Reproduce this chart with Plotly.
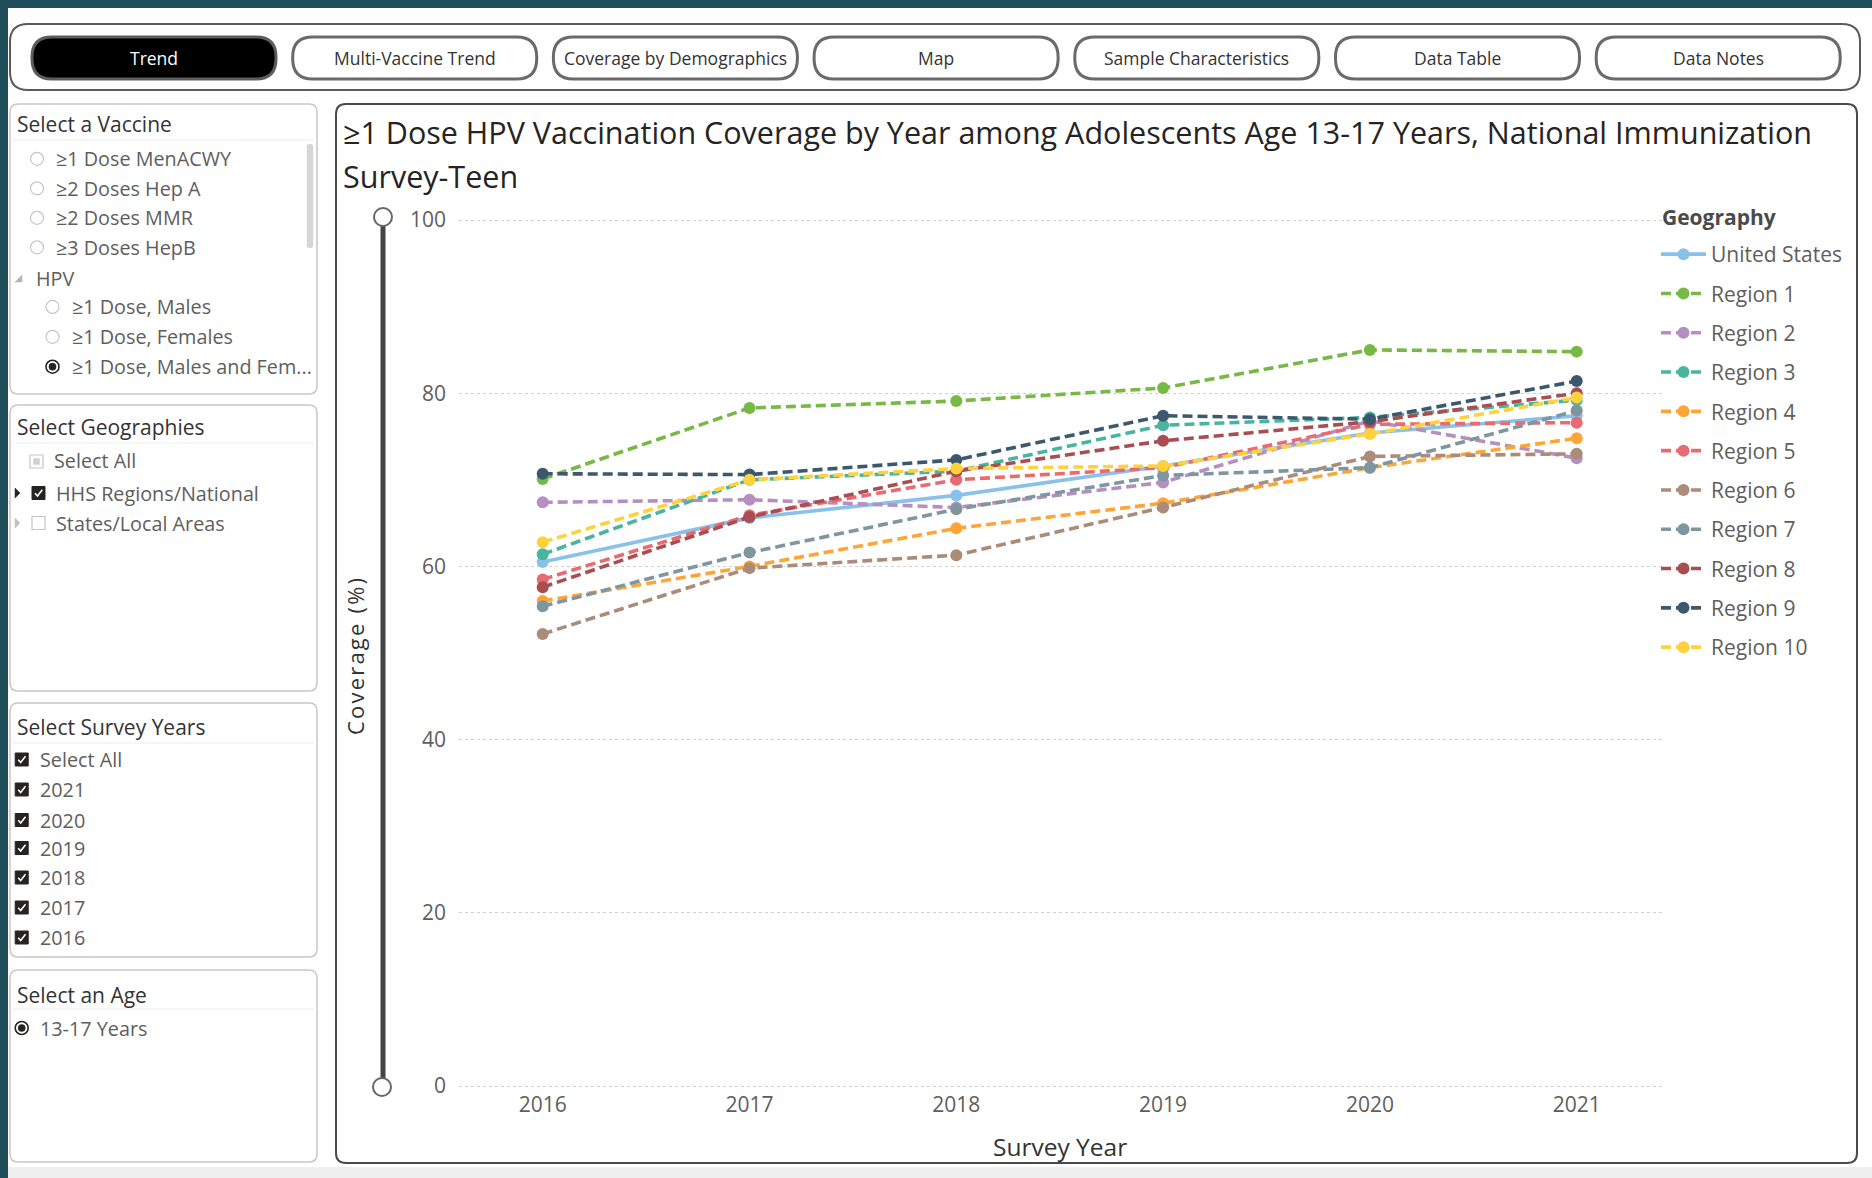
import plotly.graph_objects as go

W, H = 1872, 1178
FONT = "Open Sans"

# ---- data -------------------------------------------------------------
years = [2016, 2017, 2018, 2019, 2020, 2021]
year_labels = ["2016", "2017", "2018", "2019", "2020", "2021"]
y_ticks = [0, 20, 40, 60, 80, 100]

geographies = ["United States", "Region 1", "Region 2", "Region 3", "Region 4",
               "Region 5", "Region 6", "Region 7", "Region 8", "Region 9", "Region 10"]

united_states = [60.5, 65.6, 68.2, 71.6, 75.4, 77.4]
region_1 = [70.1, 78.3, 79.1, 80.6, 85.0, 84.8]
region_2 = [67.4, 67.7, 66.8, 69.7, 76.8, 72.5]
region_3 = [61.4, 70.0, 71.0, 76.3, 77.2, 79.2]
region_4 = [56.0, 60.0, 64.4, 67.3, 71.4, 74.8]
region_5 = [58.5, 65.9, 70.0, 71.4, 76.4, 76.6]
region_6 = [52.2, 59.8, 61.3, 66.8, 72.7, 73.0]
region_7 = [55.4, 61.6, 66.6, 70.5, 71.4, 78.0]
region_8 = [57.6, 65.7, 71.0, 74.5, 76.7, 80.0]
region_9 = [70.7, 70.6, 72.3, 77.4, 77.0, 81.4]
region_10 = [62.8, 70.0, 71.3, 71.6, 75.3, 79.5]

series = [united_states, region_1, region_2, region_3, region_4, region_5,
          region_6, region_7, region_8, region_9, region_10]

colors = ["#8AC1EA", "#78B844", "#B68EC0", "#49B5A0", "#FFA538", "#E76B70",
          "#AA8C78", "#7D96A0", "#A84E50", "#3C586E", "#FFD23C"]

nav_buttons = ["Trend", "Multi-Vaccine Trend", "Coverage by Demographics", "Map",
               "Sample Characteristics", "Data Table", "Data Notes"]

vaccine_items = ["≥1 Dose MenACWY", "≥2 Doses Hep A", "≥2 Doses MMR", "≥3 Doses HepB"]
hpv_items = ["≥1 Dose, Males", "≥1 Dose, Females", "≥1 Dose, Males and Fem..."]
geo_items = ["Select All", "HHS Regions/National", "States/Local Areas"]
year_items = ["Select All", "2021", "2020", "2019", "2018", "2017", "2016"]
age_items = ["13-17 Years"]

title_line1 = ("≥1 Dose HPV Vaccination Coverage by Year among Adolescents Age 13-17 Years, "
               "National Immunization")
title_line2 = "Survey-Teen"
legend_title = "Geography"
x_title = "Survey Year"
y_title = "Coverage (%)"


# ---- pixel helpers (page is drawn in paper coordinates, no margins) ----
def fx(x):
    return x / W


def fy(y):
    return 1 - y / H


def rrect_path(x0, y0, x1, y1, r):
    pts = [
        f"M {fx(x0 + r)},{fy(y0)}",
        f"L {fx(x1 - r)},{fy(y0)}",
        f"Q {fx(x1)},{fy(y0)} {fx(x1)},{fy(y0 + r)}",
        f"L {fx(x1)},{fy(y1 - r)}",
        f"Q {fx(x1)},{fy(y1)} {fx(x1 - r)},{fy(y1)}",
        f"L {fx(x0 + r)},{fy(y1)}",
        f"Q {fx(x0)},{fy(y1)} {fx(x0)},{fy(y1 - r)}",
        f"L {fx(x0)},{fy(y0 + r)}",
        f"Q {fx(x0)},{fy(y0)} {fx(x0 + r)},{fy(y0)}",
        "Z",
    ]
    return " ".join(pts)


shapes = []
annotations = []


def add_rrect(x0, y0, x1, y1, r, fill, line_color, line_width, layer="below"):
    shapes.append(dict(type="path", path=rrect_path(x0, y0, x1, y1, r), xref="paper", yref="paper",
                       fillcolor=fill, line=dict(color=line_color, width=line_width), layer=layer))


def add_rect(x0, y0, x1, y1, fill, line_color=None, line_width=0, layer="below"):
    shapes.append(dict(type="rect", xref="paper", yref="paper", x0=fx(x0), x1=fx(x1),
                       y0=fy(y1), y1=fy(y0), fillcolor=fill,
                       line=dict(color=line_color or fill, width=line_width), layer=layer))


def add_circle(cx, cy, r, fill, line_color, line_width, layer="above"):
    shapes.append(dict(type="circle", xref="paper", yref="paper", x0=fx(cx - r), x1=fx(cx + r),
                       y0=fy(cy + r), y1=fy(cy - r), fillcolor=fill,
                       line=dict(color=line_color, width=line_width), layer=layer))


def add_line(x0, y0, x1, y1, color, width, layer="above"):
    shapes.append(dict(type="line", xref="paper", yref="paper", x0=fx(x0), x1=fx(x1),
                       y0=fy(y0), y1=fy(y1), line=dict(color=color, width=width), layer=layer))


def add_poly(points, fill, line_color, line_width, closed=True, layer="above"):
    p = "M " + " L ".join(f"{fx(x)},{fy(y)}" for x, y in points)
    if closed:
        p += " Z"
    shapes.append(dict(type="path", path=p, xref="paper", yref="paper", fillcolor=fill,
                       line=dict(color=line_color, width=line_width), layer=layer))


def add_text(x, y, s, size, color, anchor="left", bold=False, angle=0):
    annotations.append(dict(x=fx(x), y=fy(y), xref="paper", yref="paper", text=s,
                            showarrow=False, xanchor=anchor, yanchor="middle", textangle=angle,
                            font=dict(family=FONT, size=size, color=color,
                                      weight="bold" if bold else "normal")))


def checkbox(cx, cy):
    add_rect(cx - 6.5, cy - 6.5, cx + 6.5, cy + 6.5, "#252423", "#252423", 1, layer="above")
    add_poly([(cx - 3.5, cy + 0.2), (cx - 1, cy + 3), (cx + 3.8, cy - 3.2)],
             "rgba(0,0,0,0)", "white", 1.6, closed=False)


def radio(cx, cy, selected=False):
    if selected:
        add_circle(cx, cy, 6.5, "white", "#252423", 1.6)
        add_circle(cx, cy, 3.6, "#252423", "#252423", 0.5)
    else:
        add_circle(cx, cy, 6.5, "white", "#c6c6c6", 1.2)


# ---- page background ----------------------------------------------------
add_rect(8, 8, W, 1167, "white")
add_rect(8, 1167, W, H, "#efefef")

# ---- navigation bar -------------------------------------------------------
add_rrect(10, 24, 1860, 90, 18, "white", "#5a5a5a", 2)
for i, label in enumerate(nav_buttons):
    x0 = 32 + i * 260.7
    active = i == 0
    add_rrect(x0, 37, x0 + 244, 79, 20, "#000000" if active else "white",
              "#5c5c5c" if active else "#6a6a6a", 3)
    add_text(x0 + 122, 58, label, 17.5, "white" if active else "#333333", anchor="center")

# ---- slicer panels --------------------------------------------------------
HEAD = "#333333"
ITEM = "#605e5c"
HS, IS = 21, 19.8

# Select a Vaccine
add_rrect(10, 104, 317, 394, 8, "white", "#c8c8c8", 1.5)
add_text(15, 124, "Select a Vaccine", HS, HEAD)
add_line(13, 140, 314, 140, "#eeeeee", 1.2)
add_rrect(307, 144, 313, 248, 3, "#d6d6d6", "#d6d6d6", 0.5, layer="above")
for k, label in enumerate(vaccine_items):
    yy = 158.8 + k * 29.5
    radio(37, yy)
    add_text(54, yy, label, IS, ITEM)
add_poly([(22, 275), (22, 282), (15, 282)], "#b5b5b5", "#b5b5b5", 0.5)
add_text(34, 278, "HPV", IS, ITEM)
for k, label in enumerate(hpv_items):
    yy = 306.9 + k * 29.9
    radio(52.5, yy, selected=(k == 2))
    add_text(70, yy, label, IS, ITEM)

# Select Geographies
add_rrect(10, 405, 317, 691, 8, "white", "#c8c8c8", 1.5)
add_text(15, 427, "Select Geographies", HS, HEAD)
add_line(13, 443, 314, 443, "#eeeeee", 1.2)
add_rect(30, 455, 43, 468, "white", "#c6c6c6", 1.2, layer="above")
add_rect(33.5, 458.5, 39.5, 464.5, "#d0d0d0", "#d0d0d0", 0.5, layer="above")
add_text(52, 461, geo_items[0], IS, ITEM)
add_poly([(15, 488), (15, 498), (20, 493)], "#252423", "#252423", 0.5)
checkbox(38.5, 493)
add_text(54, 493, geo_items[1], IS, ITEM)
add_poly([(15, 518), (15, 528), (20, 523)], "#c0c0c0", "#c0c0c0", 0.5)
add_rect(32, 516.5, 45, 529.5, "white", "#c6c6c6", 1.2, layer="above")
add_text(54, 523, geo_items[2], IS, ITEM)

# Select Survey Years
add_rrect(10, 703, 317, 957, 8, "white", "#c8c8c8", 1.5)
add_text(15, 727, "Select Survey Years", HS, HEAD)
add_line(13, 743, 314, 743, "#eeeeee", 1.2)
year_rows = [759.5, 789.5, 820, 848, 877.5, 907.5, 937.5]
for yy, label in zip(year_rows, year_items):
    checkbox(21.7, yy)
    add_text(38, yy, label, IS, ITEM)

# Select an Age
add_rrect(10, 970, 317, 1162, 8, "white", "#c8c8c8", 1.5)
add_text(15, 995, "Select an Age", HS, HEAD)
add_line(13, 1009, 314, 1009, "#eeeeee", 1.2)
radio(21.7, 1028, selected=True)
add_text(38, 1028, age_items[0], IS, ITEM)

# ---- chart panel ----------------------------------------------------------
add_rrect(336, 104, 1857, 1163, 10, "white", "#4a4a4a", 2)
add_text(341, 132, title_line1, 30.5, "#252423")
add_text(341, 176, title_line2, 30.5, "#252423")

# value-range slider beside the y axis
add_line(383, 217, 383, 1087, "#444444", 5)
add_circle(383, 217, 9, "white", "#666666", 2)
add_circle(382, 1087, 9, "white", "#666666", 2)

# axis titles (y title is letter-spaced with hair spaces)
add_text(355, 657, "\u200a".join(y_title), 22, "#333333", anchor="center", angle=-90)
add_text(1060, 1146, x_title, 24.5, "#333333", anchor="center")
add_text(1660, 217, f"<b>{legend_title}</b>", 21, "#4a4a4a")

# ---- traces ---------------------------------------------------------------
fig = go.Figure()
for name, vals, col in zip(geographies, series, colors):
    dash = "solid" if name == "United States" else "10px,5px"
    fig.add_trace(go.Scatter(
        x=years, y=vals, name=name, mode="lines+markers", legendgroup=name,
        line=dict(color=col, width=3.6, dash=dash),
        marker=dict(color=col, size=12),
    ))

# plot area geometry (pixels)
px_left, px_right = 459, 1663
y0_px, y100_px = 1086, 220
per_unit = (y0_px - y100_px) / 100
y_lo, y_hi = -0.5, 100.5
dom_bottom = y0_px + (0 - y_lo) * per_unit
dom_top = y100_px - (y_hi - 100) * per_unit
x_per_year = (1576.7 - 542.7) / 5
x_lo = 2016 - (542.7 - px_left) / x_per_year
x_hi = 2021 + (px_right - 1576.7) / x_per_year

fig.update_layout(
    width=W, height=H,
    margin=dict(l=0, r=0, t=0, b=0, pad=0, autoexpand=False),
    paper_bgcolor="#1f4e59",
    plot_bgcolor="rgba(0,0,0,0)",
    font=dict(family=FONT, color="#605e5c"),
    showlegend=True,
    xaxis=dict(domain=[fx(px_left), fx(px_right)], range=[x_lo, x_hi],
               tickmode="array", tickvals=years, ticktext=year_labels,
               showgrid=False, zeroline=False, showline=False, ticks="",
               automargin=False,
               tickfont=dict(family=FONT, size=21, color="#605e5c")),
    yaxis=dict(domain=[fy(dom_bottom), fy(dom_top)], range=[y_lo, y_hi],
               tickmode="array", tickvals=y_ticks,
               showgrid=True, gridcolor="#cfcfcf", gridwidth=1, griddash="dot",
               zeroline=False, showline=False, ticks="", ticklabelstandoff=12,
               automargin=False,
               tickfont=dict(family=FONT, size=21, color="#605e5c")),
    legend=dict(
        x=fx(1656), y=fy(234), xanchor="left", yanchor="top",
        bgcolor="rgba(0,0,0,0)", tracegroupgap=9, itemwidth=45,
        font=dict(family=FONT, size=21, color="#605e5c"),
    ),
    shapes=shapes,
    annotations=annotations,
)

fig.write_html("out.html")
